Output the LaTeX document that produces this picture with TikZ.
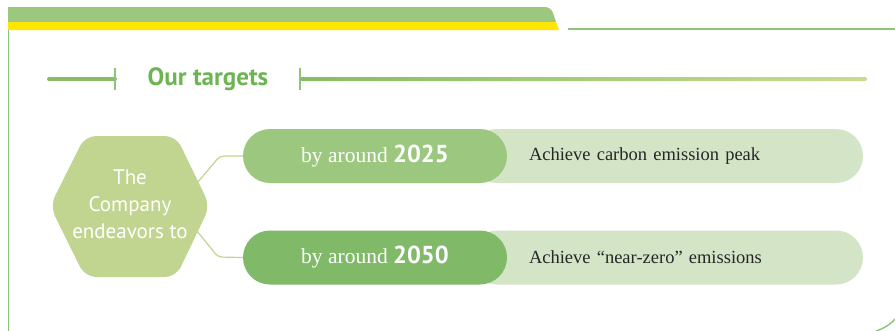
\documentclass[tikz,border=0pt]{standalone}
\usepackage{fontspec}
\setmainfont{Liberation Serif}
\setsansfont{PT Sans}

\definecolor{bandgreen}{HTML}{9CC77E}
\definecolor{bandyellow}{HTML}{FFE600}
\definecolor{framegreen}{HTML}{8DC47A}
\definecolor{titlegreen}{HTML}{6CB552}
\definecolor{hexgreen}{HTML}{C1D590}
\definecolor{pilllight}{HTML}{9CC77E}
\definecolor{pilldark}{HTML}{80BA69}
\definecolor{goalgreen}{HTML}{D4E5C7}
\definecolor{ruleleft}{HTML}{86BD66}
\definecolor{ruleright}{HTML}{C9DA94}

\newcommand{\yearnum}[1]{{\sffamily\bfseries\fontsize{24.5}{24}\selectfont #1}}

\begin{document}
\begin{tikzpicture}[x=1pt, y=-1pt]
  \tikzstyle{frame}=[draw=framegreen, line width=1.4pt]
  \tikzstyle{tick}=[draw=framegreen, line width=1.1pt]
  \tikzstyle{hexlabel}=[text=white, align=center, font=\sffamily\fontsize{21}{27}\selectfont]
  \tikzstyle{pill}=[rectangle, rounded corners=27pt, minimum height=54pt, minimum width=264pt,
                    inner sep=0pt, text=white, font=\fontsize{21.5}{24}\selectfont]
  \tikzstyle{goal}=[rectangle, rounded corners=27pt, minimum height=54pt, minimum width=393pt,
                    inner sep=0pt, fill=goalgreen, text=black!85, text width=275pt, align=left,
                    font=\fontsize{18.5}{22}\selectfont]
  \tikzstyle{link}=[draw=hexgreen, line width=1.2pt, rounded corners=4pt]

  \useasboundingbox (0,0) rectangle (895,330);
  \fill[white] (0,0) rectangle (895,330);

  % top band and frame
  \fill[bandgreen] (8,22) -- (8,7) [rounded corners=6pt] -- (551,7) [sharp corners] -- (556,22) -- cycle;
  \fill[bandyellow] (8,22) -- (556,22) -- (559,30) -- (8,30) -- cycle;
  \draw[frame] (8.7,30) -- (8.7,332);
  \draw[frame, line width=1.1pt] (568,29) -- (897,29);
  \draw[frame] (876,331) .. controls (885,328) and (891,324) .. (897,317);

  % heading
  \node[font=\sffamily\bfseries\fontsize{25}{26}\selectfont, text=titlegreen] (title) at (208,79) {Our targets};
  \draw[draw=ruleleft, line width=4pt, line cap=round] (49,79) -- (115,79);
  \draw[tick] (115,68) -- (115,90);
  \draw[tick] (300,68) -- (300,90);
  \shade[left color=ruleleft, right color=ruleright, rounded corners=2pt] (300,77) rectangle (867,81);

  % hexagon
  \fill[hexgreen, rounded corners=11pt] (50,206) -- (85,136) -- (176,136) -- (210,206) -- (176,277) -- (85,277) -- cycle;
  \node[hexlabel] (company) at (130,204) {The\\Company\\endeavors to};
  \coordinate (hexup)   at (197,183);
  \coordinate (hexdown) at (197,231);

  % targets
  \node[goal] (goal2025) at (666.5,156)   {Achieve carbon emission peak};
  \node[goal] (goal2050) at (666.5,257.5) {Achieve “near-zero” emissions};
  \node[pill, fill=pilllight] (by2025) at (375,156)   {by around \yearnum{2025}};
  \node[pill, fill=pilldark]  (by2050) at (375,257.5) {by around \yearnum{2050}};

  \draw[link] (hexup)   -- ++(23,-27) -- (by2025.west);
  \draw[link] (hexdown) -- ++(21,26)  -- (by2050.west);
\end{tikzpicture}
\end{document}
